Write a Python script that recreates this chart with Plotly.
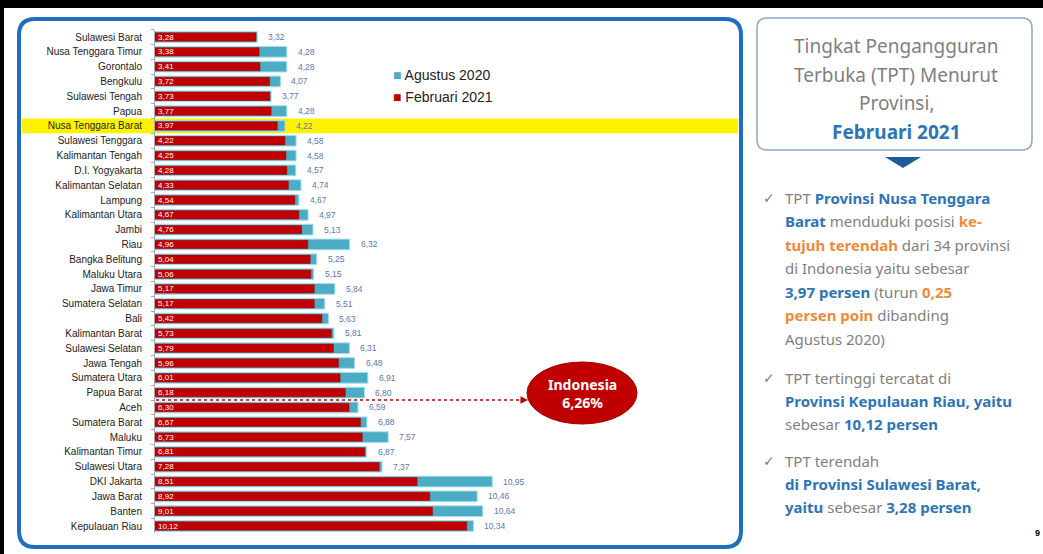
import plotly.graph_objects as go

W, H = 1043, 554

provinces = [
    "Sulawesi Barat", "Nusa Tenggara Timur", "Gorontalo", "Bengkulu", "Sulawesi Tengah",
    "Papua", "Nusa Tenggara Barat", "Sulawesi Tenggara", "Kalimantan Tengah", "D.I. Yogyakarta",
    "Kalimantan Selatan", "Lampung", "Kalimantan Utara", "Jambi", "Riau",
    "Bangka Belitung", "Maluku Utara", "Jawa Timur", "Sumatera Selatan", "Bali",
    "Kalimantan Barat", "Sulawesi Selatan", "Jawa Tengah", "Sumatera Utara", "Papua Barat",
    "Aceh", "Sumatera Barat", "Maluku", "Kalimantan Timur", "Sulawesi Utara",
    "DKI Jakarta", "Jawa Barat", "Banten", "Kepulauan Riau",
]
feb_2021 = [
    3.28, 3.38, 3.41, 3.72, 3.73,
    3.77, 3.97, 4.22, 4.25, 4.28,
    4.33, 4.54, 4.67, 4.76, 4.96,
    5.04, 5.06, 5.17, 5.17, 5.42,
    5.73, 5.79, 5.96, 6.01, 6.18,
    6.30, 6.67, 6.73, 6.81, 7.28,
    8.51, 8.92, 9.01, 10.12,
]
agu_2020 = [
    3.32, 4.28, 4.28, 4.07, 3.77,
    4.28, 4.22, 4.58, 4.58, 4.57,
    4.74, 4.67, 4.97, 5.13, 6.32,
    5.25, 5.15, 5.84, 5.51, 5.63,
    5.81, 6.31, 6.48, 6.91, 6.80,
    6.59, 6.88, 7.57, 6.87, 7.37,
    10.95, 10.46, 10.64, 10.34,
]
highlight_province = "Nusa Tenggara Barat"
indonesia_tpt = 6.26
series_names = ["Agustus 2020", "Februari 2021"]


def fmt(v):
    return f"{v:.2f}".replace(".", ",")


def px(x):
    return x / W


def py(y):
    return 1 - y / H


BLUE_BAR = "#4BACC6"
RED_BAR = "#C00000"
GRAY = "#7F7F7F"
BLUE_TXT = "#2E75B6"
ORANGE = "#EE8A3C"

fig = go.Figure()
fig.add_trace(go.Bar(
    y=provinces, x=agu_2020, orientation="h", name=series_names[0],
    marker=dict(color=BLUE_BAR, line=dict(color="#A9DCEA", width=1)),
    width=0.72, hoverinfo="x+y", showlegend=False,
))
fig.add_trace(go.Bar(
    y=provinces, x=feb_2021, orientation="h", name=series_names[1],
    marker=dict(color=RED_BAR, line=dict(color="#9E0000", width=0.5)),
    width=0.56,
    text=[fmt(v) for v in feb_2021], textposition="inside", insidetextanchor="start",
    textfont=dict(color="white", size=8, family="Liberation Sans"),
    constraintext="none", hoverinfo="x+y", showlegend=False,
))

annotations = []
for p, v in zip(provinces, agu_2020):
    annotations.append(dict(
        x=v, y=p, xref="x", yref="y", text=fmt(v), showarrow=False,
        xanchor="left", yanchor="middle", xshift=9,
        font=dict(size=8.5, color="#5A78B0", family="Liberation Sans"),
    ))

# manual legend
for (name, col), y in zip(zip(series_names, [BLUE_BAR, RED_BAR]), (75, 97)):
    annotations.append(dict(
        x=px(391), y=py(y), xref="paper", yref="paper", showarrow=False,
        xanchor="left", yanchor="middle",
        text=f'<span style="color:{col}">■</span> {name}',
        font=dict(size=14, color="#222", family="Liberation Sans"),
    ))

shapes = []
# black frame strips
shapes.append(dict(type="rect", xref="paper", yref="paper", x0=0, x1=1, y0=py(8), y1=1,
                   fillcolor="black", line=dict(width=0), layer="above"))
shapes.append(dict(type="rect", xref="paper", yref="paper", x0=0, x1=px(4), y0=0, y1=1,
                   fillcolor="black", line=dict(width=0), layer="above"))


def rounded(x0, y0, x1, y1, r):
    rx, ry = r / W, r / H
    X0, X1 = px(x0), px(x1)
    Yt, Yb = py(y0), py(y1)
    return (f"M {X0+rx},{Yt} L {X1-rx},{Yt} Q {X1},{Yt} {X1},{Yt-ry} "
            f"L {X1},{Yb+ry} Q {X1},{Yb} {X1-rx},{Yb} L {X0+rx},{Yb} "
            f"Q {X0},{Yb} {X0},{Yb+ry} L {X0},{Yt-ry} Q {X0},{Yt} {X0+rx},{Yt} Z")


# left panel border
shapes.append(dict(type="path", xref="paper", yref="paper", path=rounded(19, 19, 741, 547, 16),
                   line=dict(color="#1F6FC0", width=4), layer="above"))
# highlight row
hi = provinces.index(highlight_province)
shapes.append(dict(type="rect", xref="paper", yref="y", x0=px(22), x1=px(738),
                   y0=hi - 0.5, y1=hi + 0.5, fillcolor="#FFF200", line=dict(width=0), layer="below"))
# right title box
shapes.append(dict(type="path", xref="paper", yref="paper", path=rounded(757, 18, 1032, 150, 10),
                   line=dict(color="#8FA6C2", width=1.5), layer="above"))
shapes.append(dict(type="path", xref="paper", yref="paper",
                   path=f"M {px(885)},{py(157)} L {px(921)},{py(157)} L {px(903)},{py(168)} Z",
                   fillcolor="#1F5C99", line=dict(width=0)))

# Indonesia marker between Papua Barat and Aceh
ind_y = provinces.index("Papua Barat") + 0.5
shapes.append(dict(type="line", xref="paper", yref="y", x0=px(156), x1=px(522), y0=ind_y, y1=ind_y,
                   line=dict(color="#C00000", width=1.5, dash="dot"), layer="above"))
annotations.append(dict(x=px(528), y=ind_y, xref="paper", yref="y", ax=-9, ay=0, text="",
                        showarrow=True, arrowhead=2, arrowsize=1, arrowwidth=1.5, arrowcolor="#C00000"))
shapes.append(dict(type="circle", xref="paper", yref="paper", x0=px(527), x1=px(637),
                   y0=py(424), y1=py(362), fillcolor="#C00000", line=dict(color="#A40000", width=1)))
annotations.append(dict(x=px(582), y=py(393), xref="paper", yref="paper",
                        text=f"<b>Indonesia<br>{fmt(indonesia_tpt)}%</b>", showarrow=False,
                        xanchor="center", yanchor="middle",
                        font=dict(color="white", size=14, family="Noto Sans"), align="center"))

# right panel title
TF = "Noto Sans"
title_lines = [("Tingkat Pengangguran", GRAY, 46), ("Terbuka (TPT) Menurut", GRAY, 75),
               ("Provinsi,", GRAY, 103), ("<b>Februari 2021</b>", BLUE_TXT, 132)]
for t, c, y in title_lines:
    annotations.append(dict(x=px(896), y=py(y), xref="paper", yref="paper", text=t, showarrow=False,
                            xanchor="center", yanchor="middle", font=dict(color=c, size=19, family=TF)))


def g(t):
    return f'<span style="color:{GRAY}">{t}</span>'


def b(t):
    return f'<span style="color:{BLUE_TXT}"><b>{t}</b></span>'


def o(t):
    return f'<span style="color:{ORANGE}"><b>{t}</b></span>'


bullet_lines = [
    (198, g("TPT ") + b("Provinsi Nusa Tenggara")),
    (221, b("Barat") + g(" menduduki posisi ") + o("ke-")),
    (245, o("tujuh terendah") + g(" dari 34 provinsi")),
    (268, g("di Indonesia yaitu sebesar")),
    (292, b("3,97 persen") + g(" (turun ") + o("0,25")),
    (315, o("persen poin") + g(" dibanding")),
    (339, g("Agustus 2020)")),
    (378, g("TPT tertinggi tercatat di")),
    (401, b("Provinsi Kepulauan Riau, yaitu")),
    (424, g("sebesar ") + b("10,12 persen")),
    (461, g("TPT terendah")),
    (484, b("di Provinsi Sulawesi Barat,")),
    (507, b("yaitu") + g(" sebesar ") + b("3,28 persen")),
]
for y, t in bullet_lines:
    annotations.append(dict(x=px(783), y=py(y), xref="paper", yref="paper", text=t, showarrow=False,
                            xanchor="left", yanchor="middle", font=dict(size=15, family=TF, color=GRAY)))
for y in (198, 378, 461):
    annotations.append(dict(x=px(769), y=py(y), xref="paper", yref="paper", text="✓", showarrow=False,
                            xanchor="center", yanchor="middle", font=dict(size=14, family="DejaVu Sans", color=GRAY)))
annotations.append(dict(x=px(1033), y=py(533), xref="paper", yref="paper", text="<b>9</b>", showarrow=False,
                        xanchor="left", yanchor="middle", font=dict(size=9, family="Liberation Sans", color="black")))

n = len(provinces)
row_h = (526 - 37) / (n - 1)
ytop = 37 - row_h / 2
ybot = 526 + row_h / 2
x_left, x_right, ppu = 155, 740, 30.8

fig.update_layout(
    width=W, height=H, margin=dict(l=0, r=0, t=0, b=0),
    paper_bgcolor="white", plot_bgcolor="rgba(0,0,0,0)",
    barmode="overlay", bargap=0.2, showlegend=False,
    xaxis=dict(domain=[px(x_left), px(x_right)], range=[0, (x_right - x_left) / ppu],
               visible=False, fixedrange=True),
    yaxis=dict(domain=[py(ybot), py(ytop)], type="category", categoryorder="array",
               categoryarray=provinces, range=[n - 0.5, -0.5],
               tickfont=dict(size=10, color="#222", family="Liberation Sans"),
               ticks="outside", ticklen=3, tickcolor="#AAAAAA", tickson="boundaries",
               showline=True, linecolor="#AAAAAA", linewidth=1, showgrid=False,
               ticklabelstandoff=10, fixedrange=True),
    shapes=shapes, annotations=annotations,
    font=dict(family="Liberation Sans"),
)

fig.write_html("out.html", config={"displayModeBar": False},
               post_script="document.body.style.margin='0';document.body.style.overflow='hidden';")
